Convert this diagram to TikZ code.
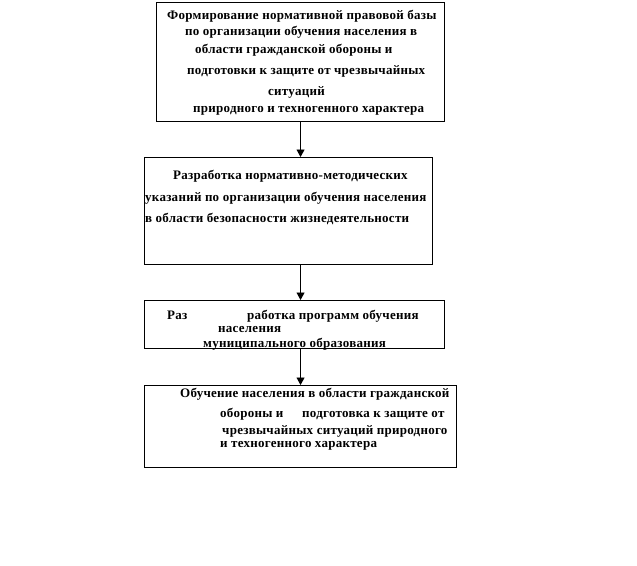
\documentclass[tikz,border=0pt]{standalone}
\usepackage{fontspec}
\setmainfont{Liberation Serif}[LetterSpace=2]
\usetikzlibrary{arrows.meta}
\tikzset{
  boxst/.style={draw, line width=1.1pt, inner sep=0pt, anchor=north west},
  txt/.style={anchor=base west, inner sep=0pt, font=\bfseries\fontsize{13}{15}\selectfont},
  arr/.style={line width=0.9pt, -{Triangle[length=7.5pt,width=8pt]}}
}
\begin{document}
\begin{tikzpicture}[x=1pt,y=-1pt]
\useasboundingbox[fill=white] (0,0) rectangle (637,565);
% boxes
\node[boxst, minimum width=288pt, minimum height=119pt] (b1) at (156,2) {};
\node[boxst, minimum width=288pt, minimum height=107pt] (b2) at (144,157) {};
\node[boxst, minimum width=300pt, minimum height=48pt] (b3) at (144,300) {};
\node[boxst, minimum width=312pt, minimum height=82pt] (b4) at (144,385) {};
% box 1 text
\node[txt] (t11) at (167,19) {Формирование нормативной правовой базы};
\node[txt] (t12) at (185,35) {по организации обучения населения в};
\node[txt] (t13) at (195,53) {области  гражданской обороны и};
\node[txt] (t14) at (187,74) {подготовки к защите от  чрезвычайных};
\node[txt] (t15) at (268,95) {ситуаций};
\node[txt] (t16) at (193,112) {природного и техногенного характера};
% box 2 text
\node[txt] (t21) at (173,179) {Разработка нормативно-методических};
\node[txt] (t22) at (145,201) {указаний по организации обучения  населения};
\node[txt] (t23) at (145,222) {в области  безопасности жизнедеятельности};
% box 3 text
\node[txt] (t31) at (167,319) {Раз};
\node[txt] (t32) at (247,319) {работка программ обучения};
\node[txt] (t33) at (218,332) {населения};
\node[txt] (t34) at (203,347) {муниципального образования};
% box 4 text
\node[txt] (t41) at (180,397) {Обучение населения в области гражданской};
\node[txt] (t42) at (220,417) {обороны и};
\node[txt] (t43) at (302,417) {подготовка к защите от};
\node[txt] (t44) at (222,434) {чрезвычайных ситуаций природного};
\node[txt] (t45) at (220,447) {и техногенного характера};
% arrows
\draw[arr] (b1.south) -- (b1.south |- b2.north);
\draw[arr] (b1.south |- b2.south) -- (b1.south |- b3.north);
\draw[arr] (b1.south |- b3.south) -- (b1.south |- b4.north);
\end{tikzpicture}
\end{document}
